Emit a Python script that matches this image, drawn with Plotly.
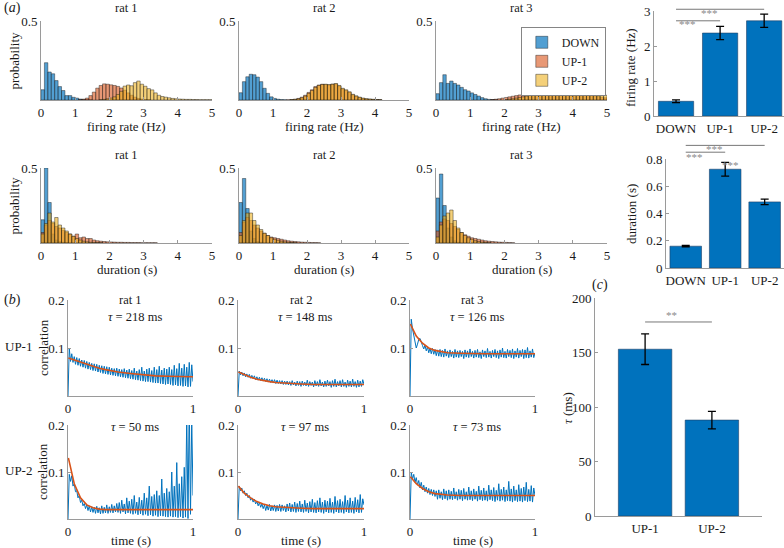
import plotly.graph_objects as go

W, H = 784, 548
FONT = "Liberation Serif, Tinos, Times New Roman, serif"

STATES = ["DOWN", "UP-1", "UP-2"]
RATS = ["rat 1", "rat 2", "rat 3"]
NBINS = 50
BIN_CENTERS = [round(0.05 + 0.1 * i, 2) for i in range(NBINS)]


def from_index(start, values):
    v = [None] * start + list(values)
    return (v + [None] * NBINS)[:NBINS]


# ---------------- (a) firing-rate histograms (probability per 0.1 Hz bin) ----------------
rate_down_r1 = from_index(0, [0.065, 0.236, 0.177, 0.166, 0.123, 0.085, 0.06, 0.028, 0.028, 0.017, 0.012, 0.006, 0.004, 0.003, 0.002])
rate_up1_r1 = from_index(11, [0.002, 0.005, 0.012, 0.028, 0.05, 0.075, 0.092, 0.102, 0.1, 0.096, 0.092, 0.086, 0.076, 0.062, 0.045, 0.03, 0.018, 0.01, 0.006, 0.003, 0.002])
rate_up2_r1 = from_index(17, [0.002, 0.004, 0.008, 0.012, 0.02, 0.035, 0.055, 0.088, 0.095, 0.09, 0.11, 0.12, 0.1, 0.087, 0.072, 0.064, 0.045, 0.03, 0.022, 0.018, 0.014, 0.01, 0.008, 0.006, 0.005, 0.004, 0.004, 0.003, 0.003, 0.002, 0.002, 0.002, 0.002])

rate_down_r2 = from_index(0, [0.046, 0.116, 0.147, 0.163, 0.16, 0.145, 0.116, 0.074, 0.042, 0.02, 0.01, 0.005, 0.003, 0.002])
rate_up1_r2 = from_index(14, [0.002, 0.003, 0.005, 0.01, 0.018, 0.03, 0.048, 0.065, 0.085, 0.095, 0.1, 0.098, 0.096, 0.1, 0.102, 0.088, 0.07, 0.06, 0.048, 0.033, 0.024, 0.016, 0.01, 0.007, 0.005, 0.004, 0.003, 0.002])
rate_up2_r2 = from_index(15, [0.002, 0.004, 0.008, 0.014, 0.025, 0.042, 0.06, 0.08, 0.092, 0.098, 0.1, 0.097, 0.1, 0.104, 0.092, 0.074, 0.065, 0.052, 0.036, 0.026, 0.018, 0.012, 0.008, 0.006, 0.004, 0.003, 0.002])

rate_down_r3 = from_index(0, [0.04, 0.11, 0.16, 0.105, 0.12, 0.105, 0.095, 0.08, 0.065, 0.057, 0.045, 0.035, 0.025, 0.015, 0.008, 0.004, 0.003, 0.002])
rate_up1_r3 = from_index(16, [0.003, 0.005, 0.008, 0.012, 0.016, 0.02, 0.024, 0.028, 0.032, 0.036, 0.04, 0.043, 0.046, 0.05, 0.052, 0.055, 0.055, 0.057, 0.058, 0.056, 0.058, 0.055, 0.053, 0.05, 0.048, 0.045, 0.042, 0.038, 0.034, 0.03, 0.026, 0.022, 0.018, 0.014])
rate_up2_r3 = from_index(20, [0.003, 0.005, 0.008, 0.012, 0.016, 0.02, 0.025, 0.03, 0.035, 0.04, 0.045, 0.05, 0.055, 0.058, 0.06, 0.062, 0.06, 0.063, 0.065, 0.062, 0.064, 0.06, 0.058, 0.055, 0.052, 0.048, 0.044, 0.04, 0.035, 0.03])

# ---------------- (a) duration histograms (probability per 0.1 s bin) ----------------
dur_down_r1 = from_index(0, [0.155, 0.5, 0.27, 0.06, 0.02, 0.01, 0.005, 0.003])
dur_up1_r1 = from_index(0, [0.07, 0.12, 0.15, 0.13, 0.11, 0.1, 0.085, 0.07, 0.06, 0.045, 0.06, 0.035, 0.04, 0.03, 0.03, 0.02, 0.015, 0.012, 0.01, 0.008, 0.007, 0.006, 0.005, 0.005, 0.004, 0.004, 0.003, 0.003, 0.003, 0.002, 0.002, 0.002, 0.002, 0.002])
dur_up2_r1 = from_index(0, [0.06, 0.13, 0.2, 0.14, 0.17, 0.12, 0.1, 0.08, 0.06, 0.045, 0.03, 0.02, 0.012, 0.008, 0.005, 0.004, 0.003, 0.002])

dur_down_r2 = from_index(0, [0.27, 0.43, 0.23, 0.08, 0.03, 0.01, 0.005])
dur_up1_r2 = from_index(0, [0.07, 0.14, 0.17, 0.15, 0.12, 0.1, 0.08, 0.065, 0.05, 0.04, 0.035, 0.03, 0.025, 0.02, 0.015, 0.012, 0.01, 0.008, 0.006, 0.005, 0.004, 0.003, 0.003, 0.002])
dur_up2_r2 = from_index(0, [0.05, 0.15, 0.2, 0.2, 0.15, 0.12, 0.09, 0.065, 0.05, 0.035, 0.025, 0.018, 0.012, 0.008, 0.005, 0.003, 0.002])

dur_down_r3 = from_index(0, [0.3, 0.46, 0.25, 0.1, 0.04, 0.015, 0.005])
dur_up1_r3 = from_index(0, [0.08, 0.14, 0.16, 0.15, 0.13, 0.11, 0.09, 0.07, 0.055, 0.045, 0.035, 0.03, 0.025, 0.02, 0.015, 0.012, 0.01, 0.008, 0.006, 0.005, 0.004, 0.003, 0.002])
dur_up2_r3 = from_index(0, [0.04, 0.12, 0.18, 0.2, 0.22, 0.15, 0.1, 0.07, 0.05, 0.035, 0.025, 0.015, 0.01, 0.006, 0.004, 0.002])

RATE_HISTS = [[rate_down_r1, rate_up1_r1, rate_up2_r1],
              [rate_down_r2, rate_up1_r2, rate_up2_r2],
              [rate_down_r3, rate_up1_r3, rate_up2_r3]]
DUR_HISTS = [[dur_down_r1, dur_up1_r1, dur_up2_r1],
             [dur_down_r2, dur_up1_r2, dur_up2_r2],
             [dur_down_r3, dur_up1_r3, dur_up2_r3]]

# ---------------- (a) summary bars ----------------
rate_means = [0.42, 2.37, 2.72]
rate_err = [0.04, 0.19, 0.19]
dur_means = [0.16, 0.725, 0.485]
dur_err = [0.005, 0.05, 0.02]

# ---------------- (b) autocorrelation traces ----------------
TIME = [round(0.01 * i, 2) for i in range(101)]
corr_up1_r1 = [0.0,
    0.100, 0.072, 0.088, 0.070, 0.082, 0.066, 0.080, 0.064, 0.078, 0.062,
    0.075, 0.060, 0.074, 0.058, 0.072, 0.056, 0.070, 0.055, 0.068, 0.053,
    0.067, 0.052, 0.066, 0.050, 0.064, 0.049, 0.063, 0.047, 0.062, 0.046,
    0.061, 0.045, 0.060, 0.044, 0.058, 0.043, 0.057, 0.042, 0.058, 0.041,
    0.056, 0.040, 0.055, 0.039, 0.057, 0.038, 0.054, 0.037, 0.056, 0.036,
    0.053, 0.035, 0.058, 0.034, 0.052, 0.033, 0.055, 0.032, 0.060, 0.031,
    0.052, 0.030, 0.056, 0.030, 0.058, 0.029, 0.053, 0.028, 0.060, 0.027,
    0.055, 0.027, 0.062, 0.026, 0.054, 0.025, 0.058, 0.024, 0.056, 0.025,
    0.060, 0.024, 0.055, 0.022, 0.064, 0.023, 0.057, 0.021, 0.068, 0.022,
    0.058, 0.020, 0.066, 0.021, 0.060, 0.019, 0.070, 0.020, 0.065, 0.030]
corr_up1_r2 = [0.0,
    0.052, 0.044, 0.050, 0.042, 0.048, 0.040, 0.046, 0.039, 0.045, 0.037,
    0.043, 0.036, 0.042, 0.034, 0.040, 0.033, 0.039, 0.032, 0.038, 0.031,
    0.037, 0.030, 0.036, 0.029, 0.035, 0.028, 0.034, 0.027, 0.034, 0.026,
    0.033, 0.026, 0.032, 0.025, 0.032, 0.024, 0.031, 0.024, 0.031, 0.023,
    0.030, 0.022, 0.032, 0.023, 0.029, 0.021, 0.031, 0.022, 0.030, 0.020,
    0.031, 0.022, 0.029, 0.021, 0.033, 0.020, 0.030, 0.022, 0.029, 0.019,
    0.032, 0.021, 0.030, 0.020, 0.034, 0.021, 0.029, 0.019, 0.031, 0.020,
    0.033, 0.021, 0.030, 0.018, 0.032, 0.020, 0.035, 0.019, 0.030, 0.021,
    0.032, 0.019, 0.034, 0.020, 0.029, 0.018, 0.033, 0.020, 0.031, 0.019,
    0.035, 0.020, 0.030, 0.018, 0.033, 0.019, 0.031, 0.020, 0.034, 0.024]
corr_up1_r3 = [0.0,
    0.160, 0.140, 0.125, 0.112, 0.100, 0.108, 0.118, 0.120, 0.110, 0.105,
    0.098, 0.106, 0.094, 0.102, 0.090, 0.100, 0.088, 0.099, 0.087, 0.097,
    0.084, 0.096, 0.083, 0.097, 0.082, 0.095, 0.081, 0.098, 0.083, 0.094,
    0.080, 0.096, 0.082, 0.093, 0.079, 0.097, 0.081, 0.094, 0.080, 0.095,
    0.082, 0.093, 0.078, 0.096, 0.081, 0.094, 0.080, 0.098, 0.082, 0.093,
    0.079, 0.095, 0.081, 0.097, 0.080, 0.092, 0.078, 0.096, 0.082, 0.094,
    0.080, 0.099, 0.081, 0.093, 0.079, 0.095, 0.082, 0.097, 0.080, 0.094,
    0.078, 0.096, 0.081, 0.100, 0.080, 0.093, 0.079, 0.097, 0.082, 0.095,
    0.080, 0.098, 0.078, 0.094, 0.081, 0.099, 0.079, 0.095, 0.082, 0.097,
    0.078, 0.096, 0.080, 0.101, 0.079, 0.094, 0.081, 0.098, 0.080, 0.090]
corr_up2_r1 = [0.0,
    0.095, 0.080, 0.092, 0.070, 0.075, 0.058, 0.060, 0.045, 0.050, 0.035,
    0.040, 0.028, 0.033, 0.022, 0.030, 0.018, 0.028, 0.015, 0.026, 0.014,
    0.025, 0.012, 0.027, 0.013, 0.024, 0.011, 0.028, 0.012, 0.025, 0.013,
    0.030, 0.012, 0.026, 0.014, 0.031, 0.013, 0.028, 0.015, 0.033, 0.014,
    0.035, 0.012, 0.040, 0.015, 0.032, 0.011, 0.045, 0.013, 0.038, 0.012,
    0.042, 0.010, 0.050, 0.012, 0.036, 0.009, 0.046, 0.011, 0.040, 0.008,
    0.055, 0.010, 0.045, 0.007, 0.070, 0.009, 0.048, 0.006, 0.052, 0.008,
    0.060, 0.005, 0.050, 0.007, 0.085, 0.006, 0.055, 0.005, 0.065, 0.004,
    0.058, 0.006, 0.100, 0.004, 0.070, 0.005, 0.120, 0.003, 0.075, 0.005,
    0.090, 0.002, 0.110, 0.004, 0.220, 0.001, 0.250, 0.010, 0.210, 0.050]
corr_up2_r2 = [0.0,
    0.070, 0.060, 0.066, 0.055, 0.060, 0.050, 0.055, 0.045, 0.050, 0.040,
    0.045, 0.036, 0.042, 0.032, 0.038, 0.028, 0.035, 0.025, 0.032, 0.022,
    0.030, 0.018, 0.029, 0.019, 0.031, 0.017, 0.028, 0.018, 0.030, 0.016,
    0.029, 0.017, 0.031, 0.016, 0.030, 0.018, 0.028, 0.015, 0.032, 0.017,
    0.034, 0.015, 0.031, 0.016, 0.036, 0.014, 0.033, 0.016, 0.038, 0.015,
    0.032, 0.014, 0.040, 0.016, 0.034, 0.013, 0.037, 0.015, 0.042, 0.014,
    0.035, 0.013, 0.039, 0.015, 0.045, 0.014, 0.036, 0.012, 0.040, 0.015,
    0.038, 0.013, 0.044, 0.014, 0.036, 0.012, 0.048, 0.015, 0.039, 0.013,
    0.042, 0.014, 0.037, 0.012, 0.050, 0.015, 0.040, 0.013, 0.045, 0.014,
    0.038, 0.012, 0.046, 0.015, 0.041, 0.013, 0.052, 0.014, 0.043, 0.030]
corr_up2_r3 = [0.0,
    0.100, 0.085, 0.095, 0.078, 0.088, 0.072, 0.082, 0.066, 0.078, 0.062,
    0.072, 0.058, 0.068, 0.055, 0.065, 0.052, 0.063, 0.050, 0.062, 0.048,
    0.060, 0.042, 0.062, 0.044, 0.058, 0.041, 0.064, 0.043, 0.060, 0.040,
    0.062, 0.042, 0.059, 0.041, 0.066, 0.043, 0.058, 0.040, 0.063, 0.042,
    0.061, 0.039, 0.065, 0.042, 0.058, 0.040, 0.068, 0.041, 0.060, 0.039,
    0.064, 0.042, 0.059, 0.038, 0.070, 0.041, 0.061, 0.039, 0.066, 0.040,
    0.060, 0.038, 0.072, 0.041, 0.062, 0.039, 0.067, 0.037, 0.061, 0.040,
    0.075, 0.038, 0.063, 0.040, 0.068, 0.037, 0.062, 0.039, 0.080, 0.038,
    0.064, 0.036, 0.070, 0.039, 0.062, 0.037, 0.073, 0.038, 0.065, 0.036,
    0.068, 0.039, 0.078, 0.037, 0.063, 0.038, 0.071, 0.036, 0.066, 0.050]

FIT_T = [0.003, 0.05, 0.1, 0.15, 0.2, 0.25, 0.3, 0.4, 0.5, 0.6, 0.7, 0.8, 0.9, 1.0]
fit_up1_r1 = [0.079, 0.075, 0.070, 0.066, 0.062, 0.058, 0.055, 0.050, 0.047, 0.044, 0.042, 0.041, 0.040, 0.040]
fit_up1_r2 = [0.050, 0.044, 0.039, 0.035, 0.032, 0.030, 0.028, 0.026, 0.025, 0.024, 0.024, 0.024, 0.024, 0.024]
fit_up1_r3 = [0.150, 0.125, 0.110, 0.100, 0.095, 0.092, 0.090, 0.089, 0.088, 0.088, 0.088, 0.088, 0.088, 0.088]
fit_up2_r1 = [0.130, 0.075, 0.045, 0.030, 0.024, 0.021, 0.020, 0.020, 0.020, 0.020, 0.020, 0.020, 0.020, 0.020]
fit_up2_r2 = [0.070, 0.055, 0.045, 0.037, 0.032, 0.028, 0.026, 0.024, 0.023, 0.022, 0.022, 0.022, 0.022, 0.022]
fit_up2_r3 = [0.090, 0.075, 0.065, 0.058, 0.054, 0.052, 0.051, 0.050, 0.050, 0.050, 0.050, 0.050, 0.050, 0.050]

CORR = [[corr_up1_r1, corr_up1_r2, corr_up1_r3], [corr_up2_r1, corr_up2_r2, corr_up2_r3]]
FITS = [[fit_up1_r1, fit_up1_r2, fit_up1_r3], [fit_up2_r1, fit_up2_r2, fit_up2_r3]]
TAUS = [[218, 148, 126], [50, 97, 73]]
ROW_LABELS = ["UP-1", "UP-2"]

# ---------------- (c) tau summary ----------------
tau_cats = ["UP-1", "UP-2"]
tau_means = [153, 88]
tau_err = [14, 8]

# ---------------- styling ----------------
HIST_FILL = ["rgba(0,114,189,0.68)", "rgba(217,83,25,0.6)", "rgba(237,177,32,0.6)"]
HIST_EDGE = "rgba(20,20,20,0.7)"
BAR_BLUE = "#0072BD"
FIT_RED = "#D95319"
AXC = "#9a9a9a"
TXT = "#1a1a1a"
STAR = "#8a8a8a"

fig = go.Figure()
layout = {}
DOMS = {}


def add_axes(n, xpx, ypx, xr, yr, xkw=None, ykw=None):
    sx = "" if n == 1 else str(n)
    xd = [xpx[0] / W, xpx[1] / W]
    yd = [1 - ypx[1] / H, 1 - ypx[0] / H]
    base = dict(showgrid=False, zeroline=False, showline=True, linecolor=AXC, linewidth=1,
                ticks="inside", ticklen=3, tickcolor=AXC, tickfont=dict(family=FONT, size=13, color=TXT),
                fixedrange=True, automargin=False)
    xa = dict(base, domain=xd, range=xr, anchor="y" + sx)
    ya = dict(base, domain=yd, range=yr, anchor="x" + sx)
    if xkw:
        xa.update(xkw)
    if ykw:
        ya.update(ykw)
    layout["xaxis" + sx] = xa
    layout["yaxis" + sx] = ya
    DOMS[n] = (xd, yd, xr, yr)
    return "x" + sx, "y" + sx


def to_paper(n, xv, yv):
    xd, yd, xr, yr = DOMS[n]
    px_ = xd[0] + (xv - xr[0]) / (xr[1] - xr[0]) * (xd[1] - xd[0])
    py_ = yd[0] + (yv - yr[0]) / (yr[1] - yr[0]) * (yd[1] - yd[0])
    return px_, py_


annotations = []
shapes = []


def ann(text, xpx, ypx, size=13, angle=0, xanchor="center", color=TXT):
    annotations.append(dict(text=text, x=xpx / W, y=1 - ypx / H, xref="paper", yref="paper",
                            showarrow=False, textangle=angle, xanchor=xanchor, yanchor="middle",
                            font=dict(family=FONT, size=size, color=color)))


# ---- (a) histograms ----
HIST_COLS = [(41, 212), (239, 409), (436, 607)]
n = 0
for row, (hists, ytop, ybot, xlabel) in enumerate([(RATE_HISTS, 21, 100, "firing rate (Hz)"),
                                                    (DUR_HISTS, 168, 243, "duration (s)")]):
    for c in range(3):
        n += 1
        xa, ya = add_axes(n, HIST_COLS[c], (ytop, ybot), [0, 5], [0, 0.5],
                          xkw=dict(tickvals=[0, 1, 2, 3, 4, 5]),
                          ykw=dict(tickvals=[0.5], ticktext=["0.5"]))
        for s in range(3):
            fig.add_trace(go.Bar(x=BIN_CENTERS, y=hists[c][s], width=0.1, name=STATES[s],
                                 marker=dict(color=HIST_FILL[s], line=dict(color=HIST_EDGE, width=0.6)),
                                 xaxis=xa, yaxis=ya,
                                 showlegend=(row == 0 and c == 2)))
        cx = (HIST_COLS[c][0] + HIST_COLS[c][1]) / 2
        ann(RATS[c], cx, ytop - 13, size=12.5)
        ann(xlabel, cx, ybot + 26, size=13)
    ann("probability", 14, (ytop + ybot) / 2, angle=-90)

# ---- (a) summary bars ----
n += 1
xa, ya = add_axes(n, (654, 784), (11, 116), [0.5, 3.45], [0, 3],
                  xkw=dict(tickvals=[1, 2, 3], ticktext=STATES, ticks=""),
                  ykw=dict(tickvals=[0, 1, 2, 3]))
fig.add_trace(go.Bar(x=[1, 2, 3], y=rate_means, width=0.8, showlegend=False,
                     marker=dict(color=BAR_BLUE, line=dict(color="#1f3f66", width=0.6)),
                     error_y=dict(type="data", array=rate_err, color="black", thickness=1.3, width=4),
                     xaxis=xa, yaxis=ya))
ann("firing rate (Hz)", 631, 68, angle=-90)
RATE_N = n
for (x0, x1, yl, ys) in [(1, 2, 2.72, 2.85), (1, 3, 3.05, 3.17)]:
    p0 = to_paper(RATE_N, x0, yl)
    p1 = to_paper(RATE_N, x1, yl)
    shapes.append(dict(type="line", xref="paper", yref="paper", x0=p0[0], x1=p1[0], y0=p0[1], y1=p1[1],
                       line=dict(color="#777", width=1)))
    ps = to_paper(RATE_N, (x0 + x1) / 2, ys)
    annotations.append(dict(text="***", x=ps[0], y=ps[1], xref="paper", yref="paper", showarrow=False,
                            font=dict(family=FONT, size=11, color=STAR)))

n += 1
xa, ya = add_axes(n, (666, 784), (159, 268), [0.5, 3.49], [0, 0.8],
                  xkw=dict(tickvals=[1, 2, 3], ticktext=STATES, ticks=""),
                  ykw=dict(tickvals=[0, 0.2, 0.4, 0.6, 0.8], ticktext=["0", "0.2", "0.4", "0.6", "0.8"]))
fig.add_trace(go.Bar(x=[1, 2, 3], y=dur_means, width=0.8, showlegend=False,
                     marker=dict(color=BAR_BLUE, line=dict(color="#1f3f66", width=0.6)),
                     error_y=dict(type="data", array=dur_err, color="black", thickness=1.3, width=4),
                     xaxis=xa, yaxis=ya))
ann("duration (s)", 631, 214, angle=-90)
DUR_N = n
for (x0, x1, yl, ys) in [(1, 2, 0.85, 0.875), (1, 3, 0.90, 0.935)]:
    p0 = to_paper(DUR_N, x0, yl)
    p1 = to_paper(DUR_N, x1, yl)
    shapes.append(dict(type="line", xref="paper", yref="paper", x0=p0[0], x1=p1[0], y0=p0[1], y1=p1[1],
                       line=dict(color="#777", width=1)))
    ps = to_paper(DUR_N, (x0 + x1) / 2, ys)
    annotations.append(dict(text="***", x=ps[0], y=ps[1], xref="paper", yref="paper", showarrow=False,
                            font=dict(family=FONT, size=11, color=STAR)))
ps = to_paper(DUR_N, 2.4, 0.815)
annotations.append(dict(text="***", x=ps[0], y=ps[1], xref="paper", yref="paper", showarrow=False,
                        font=dict(family=FONT, size=11, color=STAR)))

# ---- (b) correlation panels ----
B_COLS = [(68, 193), (238, 364), (410, 535)]
B_ROWS = [(300, 396), (425, 519)]
for r in range(2):
    for c in range(3):
        n += 1
        xa, ya = add_axes(n, B_COLS[c], B_ROWS[r], [0, 1], [0, 0.2],
                          xkw=dict(tickvals=[0, 1]),
                          ykw=dict(tickvals=[0.1, 0.2], ticktext=["0.1", "0.2"]))
        fig.add_trace(go.Scatter(x=TIME, y=CORR[r][c], mode="lines", showlegend=False,
                                 line=dict(color=BAR_BLUE, width=1.0), xaxis=xa, yaxis=ya))
        fig.add_trace(go.Scatter(x=FIT_T, y=FITS[r][c], mode="lines", showlegend=False,
                                 line=dict(color=FIT_RED, width=1.6), xaxis=xa, yaxis=ya))
        cx = (B_COLS[c][0] + B_COLS[c][1]) / 2
        if r == 0:
            ann(RATS[c], cx, 300, size=12.5)
        ann("<i>τ</i> = %d ms" % TAUS[r][c], cx + 4, B_ROWS[r][0] + 17 if r == 0 else B_ROWS[r][0] + 2, size=12.5)
        if r == 1:
            ann("time (s)", cx, 540)
    ann("correlation", 43, (B_ROWS[r][0] + B_ROWS[r][1]) / 2, angle=-90)
    ann(ROW_LABELS[r], 18, (B_ROWS[r][0] + B_ROWS[r][1]) / 2 - 2)

# ---- (c) tau bars ----
n += 1
xa, ya = add_axes(n, (595, 762), (298, 516), [0.25, 2.75], [0, 200],
                  xkw=dict(tickvals=[1, 2], ticktext=tau_cats, ticks=""),
                  ykw=dict(tickvals=[0, 50, 100, 150, 200]))
fig.add_trace(go.Bar(x=[1, 2], y=tau_means, width=0.8, showlegend=False,
                     marker=dict(color=BAR_BLUE, line=dict(color="#1f3f66", width=0.6)),
                     error_y=dict(type="data", array=tau_err, color="black", thickness=1.3, width=4),
                     xaxis=xa, yaxis=ya))
TAU_N = n
p0 = to_paper(TAU_N, 1, 178)
p1 = to_paper(TAU_N, 2, 178)
shapes.append(dict(type="line", xref="paper", yref="paper", x0=p0[0], x1=p1[0], y0=p0[1], y1=p1[1],
                   line=dict(color="#777", width=1)))
ps = to_paper(TAU_N, 1.5, 184)
annotations.append(dict(text="**", x=ps[0], y=ps[1], xref="paper", yref="paper", showarrow=False,
                        font=dict(family=FONT, size=11, color=STAR)))
ann("<i>τ</i> (ms)", 567, 408, angle=-90)

# ---- panel letters ----
ann("(<i>a</i>)", 2, 8, size=14, xanchor="left")
ann("(<i>b</i>)", 2, 300, size=14, xanchor="left")
ann("(<i>c</i>)", 590, 285, size=14, xanchor="left")

fig.update_layout(
    width=W, height=H, margin=dict(l=0, r=0, t=0, b=0, pad=0, autoexpand=False),
    paper_bgcolor="white", plot_bgcolor="white",
    barmode="overlay", bargap=0,
    font=dict(family=FONT, size=13, color=TXT),
    legend=dict(x=606 / W, y=1 - 27 / H, xanchor="right", yanchor="top",
                bgcolor="white", bordercolor="#666", borderwidth=0.8,
                font=dict(family=FONT, size=12, color=TXT), tracegroupgap=0, itemwidth=30),
    annotations=annotations, shapes=shapes,
    **layout,
)

fig.write_html("out.html", config={"displayModeBar": False, "staticPlot": True},
               post_script="document.body.style.margin='0';document.body.style.padding='0';")
